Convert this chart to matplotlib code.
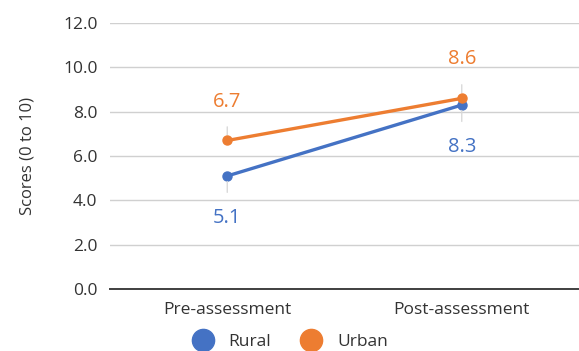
import matplotlib
matplotlib.use("Agg")
import matplotlib.pyplot as plt
from matplotlib.lines import Line2D

categories = ["Pre-assessment", "Post-assessment"]
rural = [5.1, 8.3]
urban = [6.7, 8.6]
yticks = [0, 2, 4, 6, 8, 10, 12]

blue = "#4472C4"
orange = "#ED7D31"

plt.rcParams['font.family'] = ['Open Sans', 'DejaVu Sans']

fig = plt.figure(figsize=(5.79, 3.51), dpi=100)
ax = fig.add_axes([0.19, 0.1766, 0.81, 0.7579])

x = [0, 1]
ax.plot(x, urban, color=orange, lw=2.4, marker='o', ms=6.5, zorder=4)
ax.plot(x, rural, color=blue, lw=2.4, marker='o', ms=6.5, zorder=3)

ax.set_xlim(-0.5, 1.5)
ax.set_ylim(0, 12)
ax.set_yticks(yticks)
ax.set_yticklabels([f"{v:.1f}" for v in yticks], fontsize=12.5, color="#333333")
ax.set_xticks(x)
ax.set_xticklabels(categories, fontsize=12.5, color="#333333")
ax.tick_params(axis='y', length=0, pad=9)
ax.tick_params(axis='x', length=0, pad=9)
ax.grid(axis='y', color="#D0D0D0", lw=1)
ax.set_axisbelow(True)
for s in ['top', 'right', 'left']:
    ax.spines[s].set_visible(False)
ax.spines['bottom'].set_color("#404040")
ax.spines['bottom'].set_linewidth(1.4)
ax.set_ylabel("Scores (0 to 10)", fontsize=12, color="#333333", labelpad=20)

for xi, v in zip(x, urban):
    ax.annotate(f"{v:.1f}", xy=(xi, v), xytext=(0, 28), textcoords='offset points',
                ha='center', va='center', fontsize=14.5, color=orange,
                arrowprops=dict(arrowstyle='-', color="#D9D9D9", lw=1, shrinkA=9, shrinkB=4))
for xi, v in zip(x, rural):
    ax.annotate(f"{v:.1f}", xy=(xi, v), xytext=(0, -30), textcoords='offset points',
                ha='center', va='center', fontsize=14.5, color=blue,
                arrowprops=dict(arrowstyle='-', color="#D9D9D9", lw=1, shrinkA=9, shrinkB=4))

handles = [Line2D([], [], ls='', marker='o', ms=16, color=blue, label='Rural'),
           Line2D([], [], ls='', marker='o', ms=16, color=orange, label='Urban')]
fig.legend(handles=handles, loc='center', bbox_to_anchor=(0.495, 0.026), ncol=2,
           frameon=False, fontsize=12.5, handletextpad=0.5, columnspacing=1.3,
           labelcolor="#333333")

fig.savefig("out.png", dpi=100)
